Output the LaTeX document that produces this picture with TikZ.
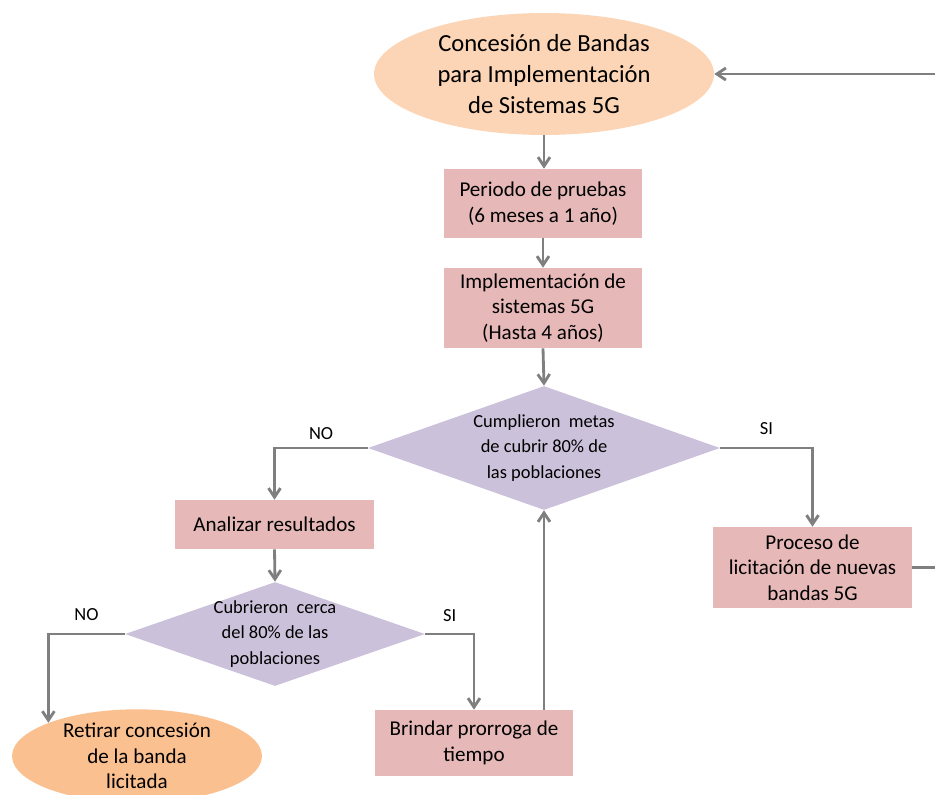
\documentclass[tikz,border=0pt]{standalone}
\usepackage{fontspec}
\setmainfont{Carlito}
\usepackage{xcolor}
\usetikzlibrary{arrows.meta,shapes.geometric,positioning}
\definecolor{startfill}{HTML}{FBD5B5}
\definecolor{endfill}{HTML}{FAC090}
\definecolor{boxfill}{HTML}{E6B9B8}
\definecolor{askfill}{HTML}{CCC1DA}
\definecolor{linegray}{HTML}{7F7F7F}

\begin{document}
\begin{tikzpicture}[x=0.02cm,y=-0.02cm,
  oval/.style={ellipse,inner sep=0pt,align=center},
  stepbox/.style={rectangle,fill=boxfill,inner sep=0pt,minimum width=3.98cm,align=center,font=\fontsize{12}{14.6}\selectfont},
  ask/.style={diamond,fill=askfill,inner sep=-8pt,aspect=2.85,align=center,font=\fontsize{10.5}{14.5}\selectfont},
  flow/.style={draw=linegray,line width=1.6pt,-{Straight Barb[length=1.8mm,width=2.4mm]}},
  tag/.style={font=\fontsize{10.5}{12}\selectfont,inner sep=2pt}]
  \useasboundingbox (0,0) rectangle (935,794);

  \node[oval,fill=startfill,minimum width=6.8cm,minimum height=2.44cm,font=\fontsize{14}{17.6}\selectfont]
    (grant) at (544,74) {Concesión de Bandas\\para Implementación\\de Sistemas 5G};
  \node[stepbox,minimum height=1.38cm] (test) at (543,203.5) {Periodo de pruebas\\(6 meses a 1 año)};
  \node[stepbox,minimum height=1.6cm] (impl) at (543,308) {Implementación de\\sistemas 5G\\(Hasta 4 años)};
  \node[ask,minimum width=7.04cm,minimum height=2.48cm] (goal) at (544,448)
    {Cumplieron\ \ metas\\de cubrir 80\% de\\las poblaciones};
  \node[stepbox,minimum height=0.98cm] (analyze) at (274.5,524.5) {Analizar resultados};
  \node[stepbox,minimum height=1.62cm] (bid) at (812.5,567.5) {Proceso de\\licitación de nuevas\\bandas 5G};
  \node[ask,minimum width=6cm,minimum height=2.08cm] (near) at (275,634)
    {Cubrieron\ \ cerca\\del 80\% de las\\poblaciones};
  \node[stepbox,minimum width=3.96cm,minimum height=1.32cm] (extend) at (474,743) {Brindar prorroga de\\tiempo};
  \node[oval,fill=endfill,minimum width=5cm,minimum height=1.8cm,font=\fontsize{12}{14.6}\selectfont]
    (revoke) at (137,756) {Retirar concesión\\de la banda\\licitada};
  \coordinate (loop) at (960,0);

  \draw[flow] (grant.south) -- (grant.south |- test.north);
  \draw[flow] (test) -- (impl);
  \draw[flow] (impl.south) -- (goal.north);
  \draw[flow] (goal.west) -| (analyze.north) node[tag,pos=0.25,above=2pt] {NO};
  \draw[flow] (goal.east) -| (bid.north) node[tag,pos=0.25,above=5pt] {SI};
  \draw[flow] (analyze.south) -- (near.north);
  \draw[flow] (near.west) -| (revoke.north west) node[tag,pos=0.25,above=5pt] {NO};
  \draw[flow] (near.east) -| (extend.north) node[tag,pos=0.25,above=4pt] {SI};
  \draw[flow] (extend.north -| goal.south) -- (goal.south);
  \draw[flow] (bid.east) -- (bid.east -| loop) |- (grant.east);
\end{tikzpicture}
\end{document}
